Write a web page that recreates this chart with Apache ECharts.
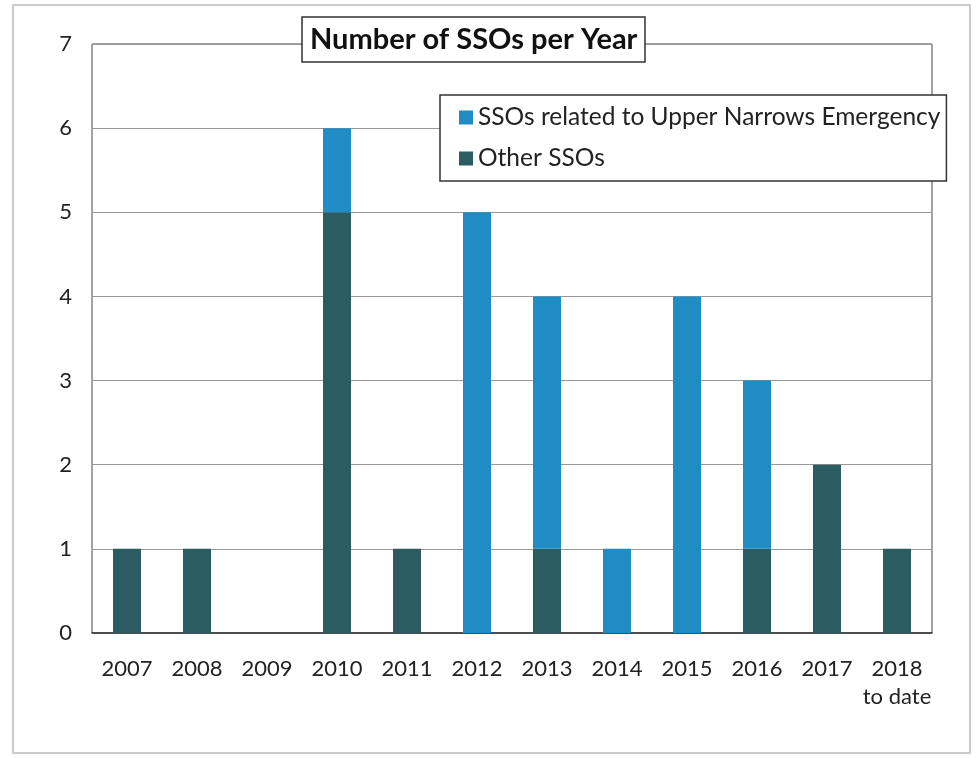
<!DOCTYPE html>
<html><head><meta charset="utf-8">
<script src="https://cdn.jsdelivr.net/npm/echarts@6/dist/echarts.min.js"></script>
<style>html,body{margin:0;padding:0;background:#fff}#c{width:977px;height:758px}</style>
</head><body><div id="c"></div>
<script>
const categories = ['2007','2008','2009','2010','2011','2012','2013','2014','2015','2016','2017','2018\nto date'];
const upperNarrows = [0,0,0,1,0,5,3,1,4,2,0,0];
const otherSSOs    = [1,1,0,5,1,0,1,0,0,1,2,1];
const yTicks = [0,1,2,3,4,5,6,7];
const FONT = 'Lato';
const chart = echarts.init(document.getElementById('c'));
chart.setOption({
  backgroundColor:'#fff',
  textStyle:{fontFamily:FONT},
  graphic:[{type:'rect',shape:{x:13,y:5,width:957,height:748},style:{fill:'none',stroke:'#bbb',lineWidth:1.5},z:-1}],
  title:{text:'Number of SSOs per Year',left:302,top:17,padding:[8,8,8,8],
    backgroundColor:'#fff',borderColor:'#333',borderWidth:1.5,
    textStyle:{fontFamily:FONT,fontSize:29,fontWeight:'bold',color:'#111'}},
  legend:{orient:'vertical',left:440,top:95,padding:[10,6,10,19],itemGap:16,
    backgroundColor:'#fff',borderColor:'#333',borderWidth:1.5,
    itemWidth:14,itemHeight:14,icon:'rect',
    data:['SSOs related to Upper Narrows Emergency','Other SSOs'],
    textStyle:{fontFamily:FONT,fontSize:24.5,color:'#222'}},
  grid:{left:92,right:45,top:44,bottom:125,show:true,borderColor:'#444',borderWidth:1,backgroundColor:'transparent'},
  xAxis:{type:'category',data:categories,
    axisLine:{lineStyle:{color:'#333',width:1.5}},axisTick:{show:false},
    axisLabel:{fontFamily:FONT,fontSize:22,color:'#222',margin:22,lineHeight:28,
      verticalAlign:'top',interval:0}},
  yAxis:{type:'value',min:0,max:7,interval:1,
    axisLine:{show:false},axisTick:{show:false},
    splitLine:{lineStyle:{color:'#999',width:1}},
    axisLabel:{fontFamily:FONT,fontSize:22,color:'#222',margin:20,
      formatter:v=>yTicks.includes(v)?String(v):''}},
  series:[
    {name:'Other SSOs',type:'bar',stack:'a',barWidth:28,data:otherSSOs,
      itemStyle:{color:'#2b5c62'}},
    {name:'SSOs related to Upper Narrows Emergency',type:'bar',stack:'a',barWidth:28,data:upperNarrows,
      itemStyle:{color:'#1f8cc4'}}
  ]
});
</script></body></html>
